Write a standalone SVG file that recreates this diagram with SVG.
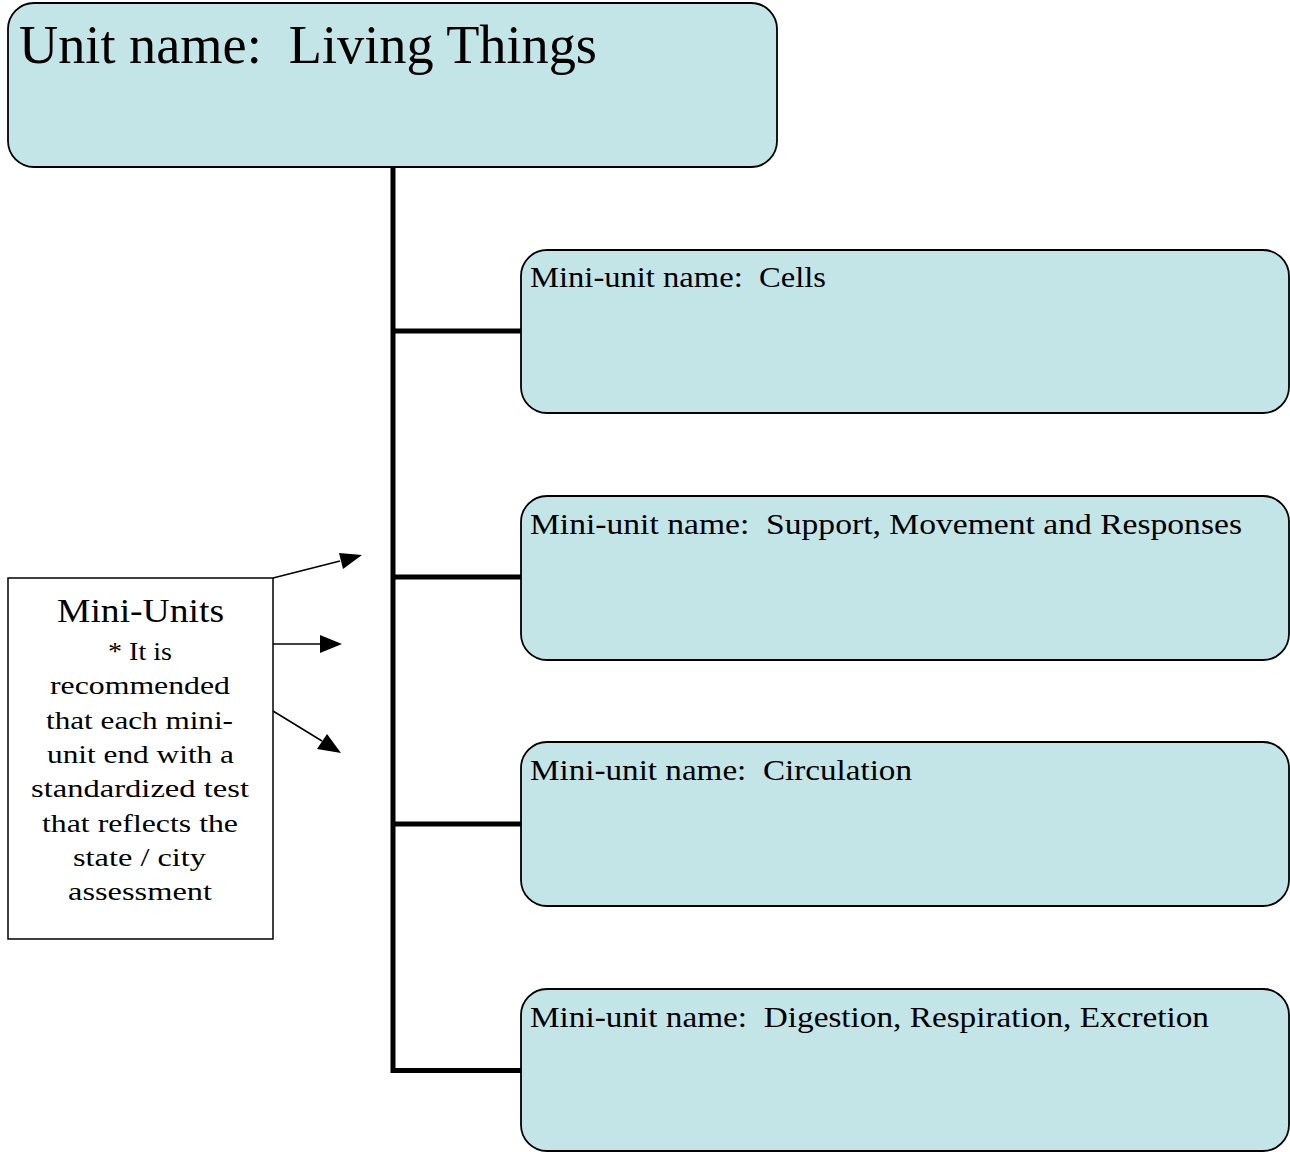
<svg xmlns="http://www.w3.org/2000/svg" width="1290" height="1152" viewBox="0 0 1290 1152">
<defs>
<style>
.box{fill:#c4e5e8;stroke:#000;stroke-width:1.8}
.t{font-family:"Liberation Serif","DejaVu Serif",serif;fill:#000;white-space:pre}
.mini{font-size:29px}
.note{font-size:26px;text-anchor:middle}
.conn{stroke:#000;stroke-width:5;fill:none}
.arr{stroke:#000;stroke-width:1.5;fill:none;marker-end:url(#ah)}
</style>
<marker id="ah" markerWidth="14" markerHeight="12" refX="13" refY="6" orient="auto" markerUnits="userSpaceOnUse">
<path d="M0,0 L14,6 L0,12 Z" fill="#000"/>
</marker>
</defs>
<rect width="1290" height="1152" fill="#fff"/>
<g id="connectors">
<path class="conn" d="M393,167 V1070.5 H522"/>
<path class="conn" d="M393,331 H522"/>
<path class="conn" d="M393,577 H522"/>
<path class="conn" d="M393,824 H522"/>
<path d="M273,578 L340,561" stroke="#000" stroke-width="1.5"/>
<path d="M362,555 L339,553 L343,569 Z" fill="#000"/>
<path d="M273,644 L320,644" stroke="#000" stroke-width="1.5"/>
<path d="M342,644 L320,635 L320,653 Z" fill="#000"/>
<path d="M273,711 L322,741" stroke="#000" stroke-width="1.5"/>
<path d="M341,753 L327,734 L317,749 Z" fill="#000"/>
</g>
<g id="unit">
<rect class="box" x="8" y="3" width="769" height="164" rx="26"/>
<text class="t" x="19" y="63" font-size="55" textLength="578" lengthAdjust="spacingAndGlyphs">Unit name:  Living Things</text>
</g>
<g id="mini1">
<rect class="box" x="521" y="250" width="768" height="163" rx="26"/>
<text class="t mini" x="530" y="287" textLength="296" lengthAdjust="spacingAndGlyphs">Mini-unit name:  Cells</text>
</g>
<g id="mini2">
<rect class="box" x="521" y="496" width="768" height="164" rx="26"/>
<text class="t mini" x="530" y="534" textLength="712" lengthAdjust="spacingAndGlyphs">Mini-unit name:  Support, Movement and Responses</text>
</g>
<g id="mini3">
<rect class="box" x="521" y="742" width="768" height="164" rx="26"/>
<text class="t mini" x="530" y="780" textLength="382" lengthAdjust="spacingAndGlyphs">Mini-unit name:  Circulation</text>
</g>
<g id="mini4">
<rect class="box" x="521" y="989" width="768" height="162" rx="26"/>
<text class="t mini" x="530" y="1027" textLength="679" lengthAdjust="spacingAndGlyphs">Mini-unit name:  Digestion, Respiration, Excretion</text>
</g>
<g id="note">
<rect x="8" y="578" width="265" height="361" fill="#fff" stroke="#000" stroke-width="1.5"/>
<text class="t" x="140.5" y="622" font-size="34" text-anchor="middle" textLength="167" lengthAdjust="spacingAndGlyphs">Mini-Units</text>
<text class="t note" x="140" y="660" textLength="64" lengthAdjust="spacingAndGlyphs">* It is</text>
<text class="t note" x="140" y="694" textLength="180" lengthAdjust="spacingAndGlyphs">recommended</text>
<text class="t note" x="139.5" y="729" textLength="187" lengthAdjust="spacingAndGlyphs">that each mini-</text>
<text class="t note" x="140.5" y="763" textLength="187" lengthAdjust="spacingAndGlyphs">unit end with a</text>
<text class="t note" x="140" y="797" textLength="218" lengthAdjust="spacingAndGlyphs">standardized test</text>
<text class="t note" x="140" y="832" textLength="196" lengthAdjust="spacingAndGlyphs">that reflects the</text>
<text class="t note" x="139.5" y="866" textLength="133" lengthAdjust="spacingAndGlyphs">state / city</text>
<text class="t note" x="140" y="900" textLength="144" lengthAdjust="spacingAndGlyphs">assessment</text>
</g>
</svg>
